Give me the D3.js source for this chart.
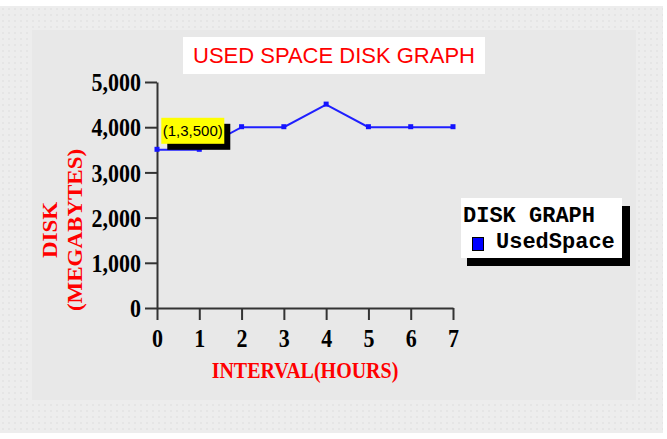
<!DOCTYPE html>
<meta charset="utf-8">
<script src="https://d3js.org/d3.v7.min.js"></script>
<style>
  body { margin: 0; background: #fff; }
</style>
<div id="chart"></div>
<script>

  // data
  var hours = [0, 1, 2, 3, 4, 5, 6, 7];
  var usedSpace = [3500, 3500, 4000, 4000, 4500, 4000, 4000, 4000];
  var yTicks = [0, 1000, 2000, 3000, 4000, 5000];
  var tipIndex = 1;

  // dimensions
  var W = 667, H = 439;
  var margin = {top: 82, left: 157},
      width = 296,
      height = 226;
  var stretch = 1.15;   // serif text in the original is drawn a bit tall

  var svg = d3.select("#chart")
    .append("svg")
      .attr("width", W)
      .attr("height", H);

  // page background, light dotted grey
  var defs = svg.append("defs");
  var dots = defs.append("pattern")
      .attr("id", "dots")
      .attr("width", 6).attr("height", 6)
      .attr("patternUnits", "userSpaceOnUse");
  dots.append("rect").attr("width", 6).attr("height", 6).attr("fill", "#ededed");
  dots.append("rect").attr("x", 2).attr("y", 2).attr("width", 2).attr("height", 2).attr("fill", "#e5e5e5");

  svg.append("rect")
      .attr("x", 0).attr("y", 6)
      .attr("width", W - 4).attr("height", H - 12)
      .attr("fill", "url(#dots)");

  // textured panel behind the chart
  svg.append("rect")
      .attr("x", 32).attr("y", 30)
      .attr("width", 604).attr("height", 370)
      .attr("fill", "#e8e8e8");

  var g = svg.append("g")
      .attr("transform", "translate(" + margin.left + "," + margin.top + ")");

  // scales
  var x = d3.scaleLinear()
    .domain([0, 7])
    .range([0, width]);

  var y = d3.scaleLinear()
    .domain([0, 5000])
    .range([height, 0]);

  // X axis
  var xAxis = g.append("g")
      .attr("transform", "translate(0," + height + ")")
      .call(d3.axisBottom(x).tickValues(hours).tickSize(12).tickSizeOuter(0).tickPadding(9)
        .tickFormat(d3.format("d")));

  // Y axis
  var yAxis = g.append("g")
      .call(d3.axisLeft(y).tickValues(yTicks).tickSize(12).tickSizeOuter(0).tickPadding(4)
        .tickFormat(d3.format(",")));

  [xAxis, yAxis].forEach(function (a) {
    a.selectAll("path, line").attr("stroke", "#333").attr("stroke-width", 2);
    a.selectAll("text")
      .attr("fill", "#000")
      .style("font-family", "'Liberation Serif', serif")
      .style("font-weight", "bold")
      .style("font-size", "22px");
  });
  xAxis.selectAll("text")
      .attr("y", 21 / stretch)
      .attr("transform", "scale(1," + stretch + ")");
  yAxis.selectAll("text")
      .attr("dy", "0.34em")
      .attr("transform", "scale(1," + stretch + ")");

  // line
  var line = d3.line()
    .x(function (d, i) { return x(hours[i]); })
    .y(function (d) { return y(d); });

  g.append("path")
      .datum(usedSpace)
      .attr("fill", "none")
      .attr("stroke", "#1f1fff")
      .attr("stroke-width", 2)
      .attr("d", line);

  g.selectAll(".pt")
      .data(usedSpace)
      .enter()
      .append("rect")
      .attr("class", "pt")
      .attr("x", function (d, i) { return x(hours[i]) - 2.5; })
      .attr("y", function (d) { return y(d) - 3; })
      .attr("width", 5)
      .attr("height", 5)
      .attr("fill", "#1414ff");

  // tooltip on point 1
  var tx = x(hours[tipIndex]), ty = y(usedSpace[tipIndex]);
  g.append("rect")
      .attr("x", tx - 32).attr("y", ty - 26)
      .attr("width", 63).attr("height", 26)
      .attr("fill", "#000");
  g.append("rect")
      .attr("x", tx - 38).attr("y", ty - 32)
      .attr("width", 63).attr("height", 26)
      .attr("fill", "#ffff00");
  g.append("text")
      .attr("x", tx - 6.5).attr("y", ty - 14)
      .attr("text-anchor", "middle")
      .style("font-family", "'Liberation Sans', Arial, sans-serif")
      .style("font-size", "15px")
      .text("(" + hours[tipIndex] + "," + d3.format(",")(usedSpace[tipIndex]) + ")");

  // title
  svg.append("rect")
      .attr("x", 183).attr("y", 37)
      .attr("width", 302).attr("height", 37)
      .attr("fill", "#fff");
  svg.append("text")
      .attr("x", 334).attr("y", 63)
      .attr("text-anchor", "middle")
      .attr("fill", "#ff0000")
      .style("font-family", "'Liberation Sans', Arial, sans-serif")
      .style("font-size", "22px")
      .text("USED SPACE DISK GRAPH");

  // X axis label
  svg.append("text")
      .attr("transform", "translate(305,378) scale(1," + stretch + ")")
      .attr("text-anchor", "middle")
      .attr("fill", "#ff0000")
      .style("font-family", "'Liberation Serif', serif")
      .style("font-weight", "bold")
      .style("font-size", "20px")
      .text("INTERVAL(HOURS)");

  // Y axis label, two lines
  var yl = svg.append("text")
      .attr("transform", "translate(57,230) rotate(-90) scale(" + stretch + ",1)")
      .attr("text-anchor", "middle")
      .attr("fill", "#ff0000")
      .style("font-family", "'Liberation Serif', serif")
      .style("font-weight", "bold")
      .style("font-size", "20px");
  yl.append("tspan").attr("x", 0).attr("y", 0).text("DISK");
  yl.append("tspan").attr("x", 0).attr("y", 25).text("(MEGABYTES)");

  // legend
  svg.append("rect")
      .attr("x", 467).attr("y", 206)
      .attr("width", 163).attr("height", 60)
      .attr("fill", "#000");
  svg.append("rect")
      .attr("x", 461).attr("y", 198)
      .attr("width", 161).attr("height", 60)
      .attr("fill", "#fff");
  svg.append("text")
      .attr("x", 463).attr("y", 222)
      .style("font-family", "'Liberation Mono', monospace")
      .style("font-weight", "bold")
      .style("font-size", "22px")
      .text("DISK GRAPH");
  svg.append("rect")
      .attr("x", 472.5).attr("y", 237.5)
      .attr("width", 11).attr("height", 13)
      .attr("fill", "#0000ff")
      .attr("stroke", "#000");
  svg.append("text")
      .attr("x", 496).attr("y", 248)
      .style("font-family", "'Liberation Mono', monospace")
      .style("font-weight", "bold")
      .style("font-size", "22px")
      .text("UsedSpace");

</script>
